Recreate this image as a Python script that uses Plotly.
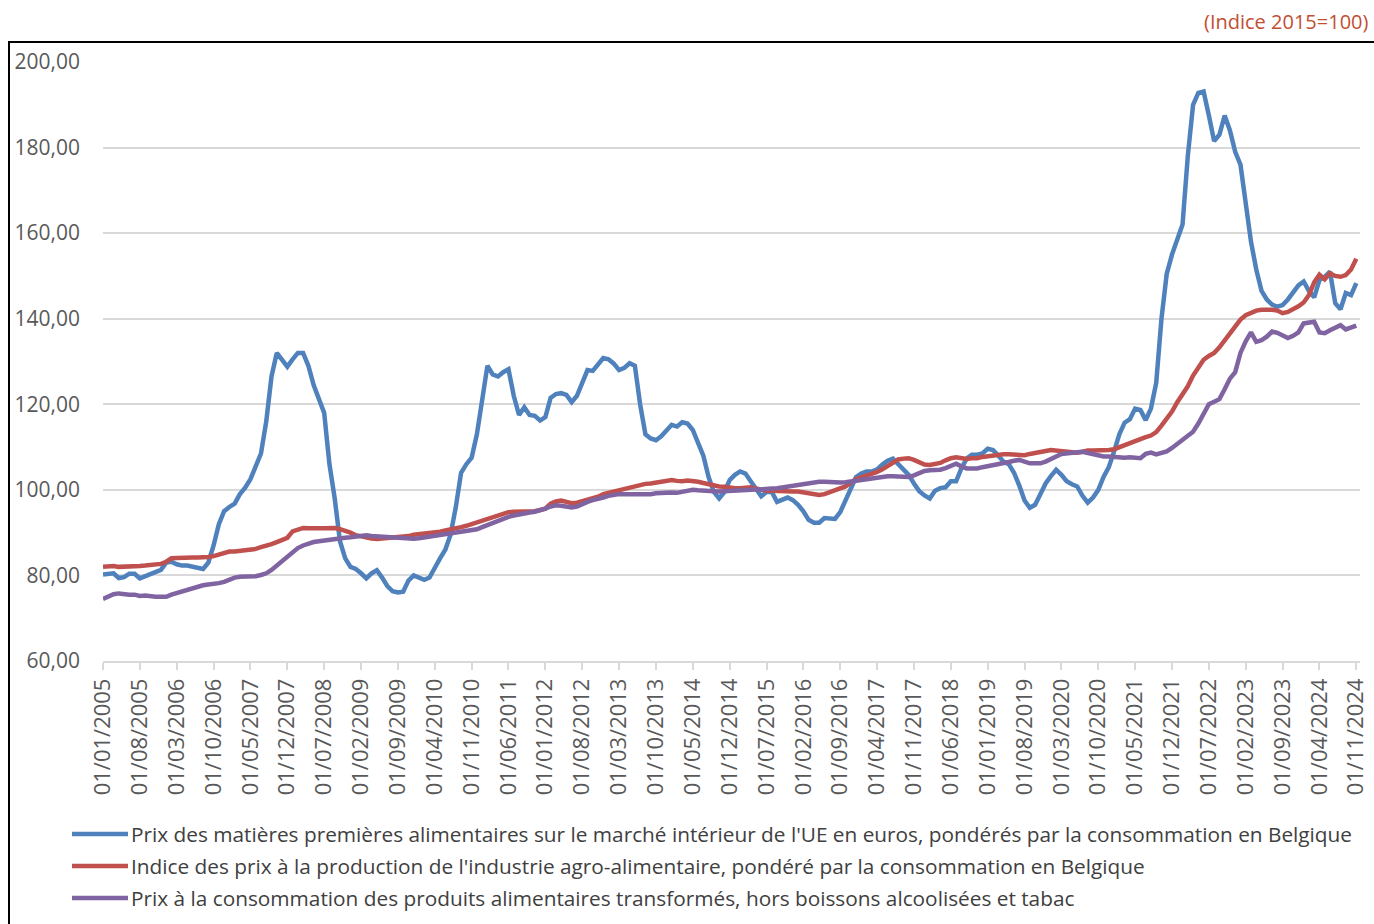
import plotly.graph_objects as go

# mois: 01/01/2005 .. 01/11/2024
dates = ["01/%02d/%d" % (m, y) for y in range(2005, 2025) for m in range(1, 13)][:239]

# Prix des matières premières alimentaires (UE), par année
mp_2005 = [80.2, 80.4, 80.5, 79.4, 79.6, 80.4, 80.4, 79.3, 79.8, 80.3, 80.6, 81.3]
mp_2006 = [83.0, 83.2, 82.6, 82.3, 82.3, 82.0, 81.8, 81.5, 83.0, 87.0, 92.0, 95.0]
mp_2007 = [96.0, 96.8, 99.0, 100.5, 102.5, 105.5, 108.5, 116.0, 126.5, 132.0, 130.5, 128.8]
mp_2008 = [130.5, 132.0, 132.0, 129.0, 124.5, 121.0, 118.0, 106.0, 98.0, 88.0, 84.0, 82.0]
mp_2009 = [81.5, 80.5, 79.3, 80.5, 81.2, 79.5, 77.5, 76.3, 76.0, 76.2, 78.8, 80.0]
mp_2010 = [79.5, 79.0, 79.5, 81.5, 84.0, 86.0, 89.5, 96.0, 104.0, 106.0, 107.5, 113.0]
mp_2011 = [121.0, 129.0, 127.0, 126.5, 127.5, 128.2, 122.0, 117.5, 119.3, 117.5, 117.3, 116.2]
mp_2012 = [117.0, 121.5, 122.4, 122.6, 122.2, 120.5, 122.0, 125.0, 128.0, 127.8, 129.5, 130.8]
mp_2013 = [130.5, 129.5, 128.0, 128.5, 129.6, 129.0, 120.0, 113.0, 112.0, 111.6, 112.5, 114.0]
mp_2014 = [115.2, 114.8, 115.8, 115.5, 114.0, 111.0, 108.0, 103.0, 99.5, 98.0, 99.5, 102.3]
mp_2015 = [103.5, 104.3, 103.8, 102.0, 100.3, 98.5, 99.5, 99.5, 97.2, 97.8, 98.2, 97.6]
mp_2016 = [96.5, 95.0, 93.0, 92.3, 92.3, 93.4, 93.4, 93.2, 94.8, 97.5, 100.5, 103.0]
mp_2017 = [103.8, 104.3, 104.3, 104.8, 105.9, 106.8, 107.3, 106.0, 105.0, 103.5, 101.5, 99.7]
mp_2018 = [98.7, 98.0, 99.8, 100.4, 100.6, 102.0, 102.0, 105.0, 107.3, 108.2, 108.2, 108.5]
mp_2019 = [109.6, 109.3, 108.0, 106.6, 106.0, 104.0, 101.0, 97.5, 95.8, 96.5, 99.0, 101.5]
mp_2020 = [103.2, 104.7, 103.5, 102.0, 101.3, 100.8, 98.6, 97.0, 98.2, 100.0, 103.0, 105.3]
mp_2021 = [109.0, 113.0, 115.7, 116.5, 119.0, 118.7, 116.3, 119.0, 125.0, 140.0, 150.5, 155.0]
mp_2022 = [158.5, 162.0, 178.0, 190.0, 192.8, 193.1, 187.5, 181.5, 183.0, 187.5, 184.0, 179.0]
mp_2023 = [176.0, 167.0, 158.0, 151.5, 146.5, 144.5, 143.3, 142.8, 143.2, 144.5, 146.0, 147.8]
mp_2024 = [148.7, 146.5, 145.0, 149.0, 149.8, 151.0, 143.6, 142.2, 146.0, 145.5, 148.3]

# Indice des prix à la production (industrie agro-alimentaire)
ppi_2005 = [82.0, 82.1, 82.2, 82.0, 82.0, 82.1, 82.1, 82.2, 82.3, 82.4, 82.5, 82.7]
ppi_2006 = [83.2, 84.0, 84.1, 84.2, 84.2, 84.2, 84.2, 84.2, 84.3, 84.5, 84.8, 85.2]
ppi_2007 = [85.6, 85.6, 85.7, 85.8, 86.0, 86.2, 86.6, 86.9, 87.3, 87.8, 88.3, 88.8]
ppi_2008 = [90.3, 90.8, 91.1, 91.0, 90.9, 91.0, 91.0, 91.1, 91.1, 90.8, 90.5, 90.0]
ppi_2009 = [89.4, 89.1, 88.9, 88.6, 88.5, 88.6, 88.8, 88.7, 88.8, 88.9, 89.2, 89.5]
ppi_2010 = [89.6, 89.8, 89.9, 90.0, 90.2, 90.5, 90.7, 91.0, 91.3, 91.6, 92.0, 92.5]
ppi_2011 = [93.0, 93.4, 93.8, 94.1, 94.5, 94.8, 94.9, 94.9, 94.9, 94.9, 95.0, 95.3]
ppi_2012 = [95.6, 96.8, 97.3, 97.5, 97.2, 96.9, 97.0, 97.3, 97.6, 98.0, 98.4, 99.0]
ppi_2013 = [99.3, 99.6, 99.8, 100.2, 100.6, 100.9, 101.2, 101.4, 101.5, 101.7, 101.9, 102.2]
ppi_2014 = [102.3, 102.1, 102.0, 102.2, 102.1, 101.9, 101.6, 101.3, 101.1, 100.8, 100.7, 100.5]
ppi_2015 = [100.4, 100.4, 100.5, 100.6, 100.3, 100.0, 99.8, 99.8, 99.7, 99.6, 99.6, 99.6]
ppi_2016 = [99.6, 99.4, 99.1, 98.9, 98.8, 99.0, 99.4, 99.8, 100.3, 100.8, 101.7, 102.5]
ppi_2017 = [102.9, 103.3, 103.8, 104.2, 104.8, 105.6, 106.5, 107.1, 107.3, 107.4, 107.0, 106.5]
ppi_2018 = [105.9, 105.8, 106.0, 106.3, 106.9, 107.4, 107.6, 107.3, 107.2, 107.4, 107.4, 107.7]
ppi_2019 = [107.9, 108.1, 108.2, 108.3, 108.3, 108.2, 108.0, 108.1, 108.4, 108.7, 108.9, 109.1]
ppi_2020 = [109.3, 109.2, 108.9, 108.9, 108.7, 108.7, 108.9, 109.2, 109.2, 109.2, 109.2, 109.3]
ppi_2021 = [109.5, 110.0, 110.5, 111.0, 111.4, 111.9, 112.3, 112.7, 113.5, 115.0, 116.5, 118.3]
ppi_2022 = [120.5, 122.3, 124.2, 126.7, 128.5, 130.4, 131.3, 132.0, 133.3, 135.0, 136.5, 138.3]
ppi_2023 = [139.8, 140.8, 141.4, 141.9, 142.1, 142.2, 142.1, 141.9, 141.3, 141.6, 142.2, 142.9]
ppi_2024 = [143.8, 145.5, 148.5, 150.3, 149.2, 150.6, 150.0, 149.8, 150.2, 151.5, 154.0]

# Prix à la consommation des produits alimentaires transformés
cpi_2005 = [74.5, 75.2, 75.6, 75.8, 75.6, 75.5, 75.5, 75.2, 75.3, 75.1, 75.0, 75.0]
cpi_2006 = [75.0, 75.5, 75.9, 76.3, 76.7, 77.1, 77.5, 77.7, 77.9, 78.0, 78.2, 78.5]
cpi_2007 = [79.0, 79.5, 79.7, 79.7, 79.8, 79.8, 80.1, 80.5, 81.3, 82.3, 83.3, 84.3]
cpi_2008 = [85.4, 86.4, 87.0, 87.5, 87.8, 88.0, 88.2, 88.4, 88.6, 88.7, 88.8, 88.9]
cpi_2009 = [89.1, 89.4, 89.4, 89.2, 89.1, 89.0, 88.9, 88.9, 88.8, 88.7, 88.6, 88.6]
cpi_2010 = [88.7, 88.9, 89.0, 89.2, 89.4, 89.6, 89.8, 90.0, 90.2, 90.4, 90.5, 90.8]
cpi_2011 = [91.3, 91.8, 92.3, 92.8, 93.3, 93.7, 94.0, 94.3, 94.5, 94.7, 94.9, 95.2]
cpi_2012 = [95.6, 96.1, 96.4, 96.3, 96.1, 95.9, 96.1, 96.8, 97.2, 97.6, 97.8, 98.2]
cpi_2013 = [98.6, 98.9, 99.0, 99.0, 99.0, 98.9, 98.8, 98.8, 99.0, 99.2, 99.3, 99.4]
cpi_2014 = [99.4, 99.3, 99.5, 99.8, 100.0, 99.9, 99.9, 99.8, 99.7, 99.6, 99.7, 99.8]
cpi_2015 = [99.8, 99.9, 100.0, 100.1, 100.1, 100.1, 100.1, 100.3, 100.4, 100.6, 100.8, 100.9]
cpi_2016 = [101.1, 101.3, 101.6, 101.8, 101.9, 101.9, 101.8, 101.7, 101.7, 101.8, 101.9, 102.1]
cpi_2017 = [102.3, 102.5, 102.7, 102.9, 103.0, 103.2, 103.2, 103.1, 102.9, 103.0, 103.4, 103.9]
cpi_2018 = [104.4, 104.6, 104.6, 104.7, 105.1, 105.6, 106.1, 105.5, 105.0, 105.0, 105.0, 105.3]
cpi_2019 = [105.5, 105.7, 105.9, 106.1, 106.5, 106.8, 107.0, 106.6, 106.2, 106.2, 106.2, 106.6]
cpi_2020 = [107.1, 107.8, 108.4, 108.6, 108.6, 108.8, 108.9, 108.6, 108.3, 107.9, 107.8, 107.8]
cpi_2021 = [107.7, 107.4, 107.5, 107.6, 107.5, 107.4, 108.4, 108.7, 108.3, 108.6, 109.0, 109.8]
cpi_2022 = [110.7, 111.8, 112.6, 113.6, 115.5, 118.0, 120.0, 120.6, 121.2, 123.5, 126.0, 127.5]
cpi_2023 = [132.0, 134.7, 136.8, 134.6, 135.0, 135.8, 137.0, 136.7, 136.0, 135.5, 136.0, 136.8]
cpi_2024 = [138.9, 139.0, 139.3, 136.8, 136.6, 137.3, 138.0, 138.5, 137.5, 138.0, 138.4]

mp = sum([mp_2005, mp_2006, mp_2007, mp_2008, mp_2009, mp_2010, mp_2011, mp_2012, mp_2013, mp_2014,
          mp_2015, mp_2016, mp_2017, mp_2018, mp_2019, mp_2020, mp_2021, mp_2022, mp_2023, mp_2024], [])
ppi = sum([ppi_2005, ppi_2006, ppi_2007, ppi_2008, ppi_2009, ppi_2010, ppi_2011, ppi_2012, ppi_2013, ppi_2014,
           ppi_2015, ppi_2016, ppi_2017, ppi_2018, ppi_2019, ppi_2020, ppi_2021, ppi_2022, ppi_2023, ppi_2024], [])
cpi = sum([cpi_2005, cpi_2006, cpi_2007, cpi_2008, cpi_2009, cpi_2010, cpi_2011, cpi_2012, cpi_2013, cpi_2014,
           cpi_2015, cpi_2016, cpi_2017, cpi_2018, cpi_2019, cpi_2020, cpi_2021, cpi_2022, cpi_2023, cpi_2024], [])

names = [
    "Prix des matières premières alimentaires sur le marché intérieur de l'UE en euros, pondérés par la consommation en Belgique",
    "Indice des prix à la production de l'industrie agro-alimentaire, pondéré par la consommation en Belgique",
    "Prix à la consommation des produits alimentaires transformés, hors boissons alcoolisées et tabac",
]
line_colors = ["#4F81BD", "#C0504D", "#8064A2"]

tick_labels = dates[::7]

W, H = 1374, 924
L, R, T, B = 103, 14, 62, 924 - 661


def px_x(x):
    # position écran (x) -> coordonnée paper
    return (x - L) / (W - L - R)


def px_y(y):
    return (H - B - y) / (H - T - B)


fig = go.Figure()
for series, name, col in zip([mp, ppi, cpi], names, line_colors):
    fig.add_trace(go.Scatter(
        x=dates, y=series,
        mode='lines',
        name=name,
        line=dict(color=col, width=4.5),
        showlegend=False,
    ))

# légende dessinée à la main (trait long comme dans Excel)
legend_shapes = []
legend_notes = []
for i, (name, col) in enumerate(zip(names, line_colors)):
    yy = px_y(834 + 32 * i)
    legend_shapes.append(dict(
        type='line', xref='paper', yref='paper',
        x0=px_x(72), x1=px_x(128), y0=yy, y1=yy,
        line=dict(color=col, width=4.5),
    ))
    legend_notes.append(dict(
        text=name, xref='paper', yref='paper',
        x=px_x(129), y=yy, xanchor='left', yanchor='middle',
        showarrow=False,
        font=dict(size=20.8, color='#404040'),
    ))

fig.update_layout(
    width=W, height=H,
    margin=dict(l=L, r=R, t=T, b=B),
    plot_bgcolor='white',
    paper_bgcolor='white',
    separators=', ',
    font=dict(family="Open Sans", color='#595959'),
    showlegend=False,
    xaxis=dict(
        type='category',
        range=[0, 238.7],
        automargin=False,
        tickmode='array',
        tickvals=tick_labels,
        ticktext=tick_labels,
        tickangle=-90,
        tickfont=dict(size=22, color='#595959'),
        ticks='outside', ticklen=7, tickcolor='#D9D9D9', tickwidth=1.5,
        showline=True, linecolor='#D9D9D9', linewidth=1.5,
        showgrid=False,
    ),
    yaxis=dict(
        range=[60, 200],
        dtick=20,
        automargin=False,
        tickformat='.2f',
        tickfont=dict(size=21, color='#595959'),
        showgrid=True, gridcolor='#D9D9D9', gridwidth=1.5,
        zeroline=False,
        ticks='', ticklabelstandoff=22,
    ),
    shapes=[dict(
        type='rect', xref='paper', yref='paper',
        x0=px_x(9), x1=px_x(1390), y0=px_y(42), y1=px_y(950),
        line=dict(color='black', width=2), fillcolor='rgba(0,0,0,0)',
        layer='below',
    )] + legend_shapes,
    annotations=[dict(
        text="(Indice 2015=100)",
        xref='paper', yref='paper',
        x=px_x(1371), y=px_y(21),
        xanchor='right', yanchor='middle',
        showarrow=False,
        font=dict(size=20, color='#C24F33'),
    )] + legend_notes,
)

# pas de marge autour de la figure dans la page
fig.write_html("out.html", config=dict(displayModeBar=False),
               post_script="document.body.style.margin='0';")
